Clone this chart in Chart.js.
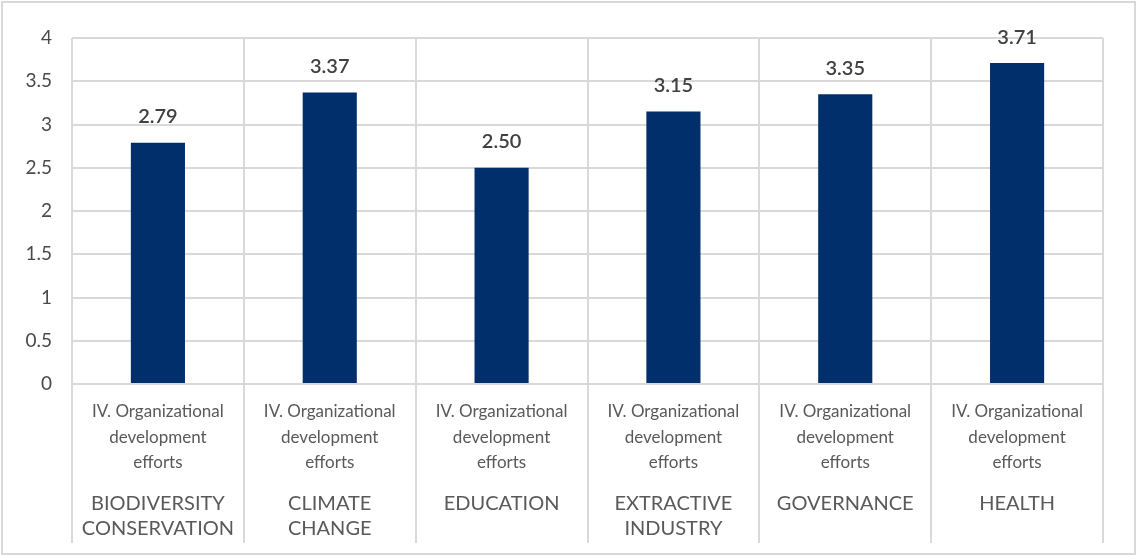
<!DOCTYPE html>
<html>
<head>
<meta charset="utf-8">
<script src="https://cdn.jsdelivr.net/npm/chart.js@4.4.1/dist/chart.umd.min.js"></script>
<style>
  html, body { margin: 0; padding: 0; background: #fff; }
  #wrap { width: 1138px; height: 556px; position: relative; }
</style>
</head>
<body>
<div id="wrap"><canvas id="orgChart"></canvas></div>
<script>
const sectors = [
    ['BIODIVERSITY', 'CONSERVATION'],
    ['CLIMATE', 'CHANGE'],
    ['EDUCATION'],
    ['EXTRACTIVE', 'INDUSTRY'],
    ['GOVERNANCE'],
    ['HEALTH']
];
const itemLabel = ['IV. Organizational', 'development', 'efforts'];
const scores = [2.79, 3.37, 2.50, 3.15, 3.35, 3.71];
const yTicks = [0, 0.5, 1, 1.5, 2, 2.5, 3, 3.5, 4];

const fontFamily = 'Lato, "Open Sans", sans-serif';
const gridColor = '#d9d9d9';

// outer frame round the whole chart
const framePlugin = {
    id: 'frame',
    beforeDraw(chart) {
        const ctx = chart.ctx;
        ctx.save();
        ctx.fillStyle = '#fff';
        ctx.fillRect(0, 0, chart.width, chart.height);
        ctx.strokeStyle = gridColor;
        ctx.lineWidth = 2;
        ctx.strokeRect(2, 2, chart.width - 5, chart.height - 4);
        ctx.restore();
    }
};

// values above the bars and the two-level category labels
const labelPlugin = {
    id: 'labels',
    afterDatasetsDraw(chart) {
        const ctx = chart.ctx;
        const meta = chart.getDatasetMeta(0);
        ctx.save();
        ctx.textAlign = 'center';
        ctx.textBaseline = 'middle';
        ctx.fillStyle = '#404040';
        ctx.font = '600 20px ' + fontFamily;
        meta.data.forEach((bar, i) => {
            ctx.fillText(scores[i].toFixed(2), bar.x, bar.y - 26);
        });

        const xScale = chart.scales.x;
        const base = chart.chartArea.bottom;
        ctx.fillStyle = '#595959';
        ctx.font = '17px ' + fontFamily;
        sectors.forEach((lines, i) => {
            const cx = xScale.getPixelForValue(i);
            itemLabel.forEach((t, j) => ctx.fillText(t, cx, base + 28 + j * 25.5));
        });
        ctx.font = '20px ' + fontFamily;
        sectors.forEach((lines, i) => {
            const cx = xScale.getPixelForValue(i);
            lines.forEach((t, j) => ctx.fillText(t, cx, base + 120 + j * 25));
        });
        ctx.restore();
    }
};

const ctx = document.getElementById('orgChart').getContext('2d');
new Chart(ctx, {
    type: 'bar',
    data: {
        labels: sectors.map(s => s.join(' ')),
        datasets: [{
            data: scores,
            backgroundColor: '#002F6C',
            categoryPercentage: 1,
            barPercentage: 0.315
        }]
    },
    options: {
        responsive: true,
        maintainAspectRatio: false,
        animation: false,
        layout: { padding: { top: 38, right: 35, left: 0, bottom: 0 } },
        plugins: {
            legend: { display: false },
            tooltip: { enabled: false }
        },
        scales: {
            x: {
                ticks: { display: false },
                grid: { offset: true, color: gridColor, lineWidth: 2, drawTicks: true, tickLength: 159, tickColor: gridColor },
                border: { color: gridColor, width: 2 },
                afterFit: (scale) => { scale.height = 172; }
            },
            y: {
                min: 0,
                max: 4,
                afterBuildTicks: (scale) => { scale.ticks = yTicks.map(v => ({ value: v })); },
                ticks: {
                    color: '#4a4a4a',
                    font: { family: fontFamily, size: 19 },
                    padding: 20,
                    callback: (v) => String(v)
                },
                grid: { color: gridColor, lineWidth: 2, drawTicks: false },
                border: { display: false },
                afterFit: (scale) => { scale.width = 72; }
            }
        }
    },
    plugins: [framePlugin, labelPlugin]
});
</script>
</body>
</html>
